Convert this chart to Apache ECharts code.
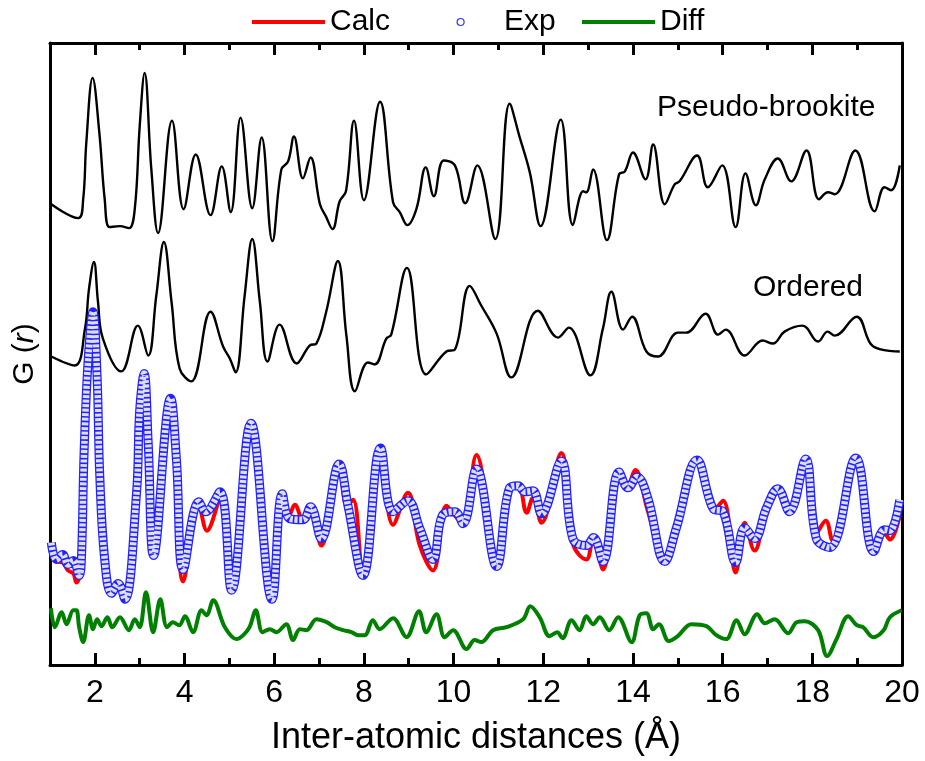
<!DOCTYPE html>
<html><head><meta charset="utf-8">
<script src="https://cdn.jsdelivr.net/npm/echarts@6/dist/echarts.min.js"></script>
<style>html,body{margin:0;padding:0;background:#fff}#chart{width:925px;height:761px}</style>
</head><body><div id="chart"></div>
<script>
// r (Å) vs G(r) in arbitrary, offset units
const pseudoBrookite = [[1.03,463],[1.63,449],[1.74,468],[1.81,525],[1.95,590],[2.10,535],[2.22,468],[2.33,440],[2.56,441],[2.76,439],[2.89,458],[3.00,541],[3.11,595],[3.26,498],[3.41,434],[3.72,547],[3.98,458],[4.25,513],[4.58,452],[4.83,501],[5.03,455],[5.25,550],[5.51,459],[5.72,530],[5.96,426],[6.16,498],[6.31,506],[6.44,531],[6.64,489],[6.81,510],[7.02,463],[7.15,451],[7.30,438],[7.46,466],[7.60,476],[7.78,547],[8.00,467],[8.36,566],[8.65,465],[8.80,455],[8.97,442],[9.17,458],[9.38,500],[9.56,471],[9.78,507],[10.03,502],[10.26,464],[10.53,502],[10.93,428],[11.25,564],[11.47,531],[11.70,495],[11.94,441],[12.39,548],[12.66,442],[12.89,476],[12.96,475],[13.11,498],[13.42,427],[13.69,493],[13.82,496],[14.00,515],[14.28,488],[14.45,523],[14.71,463],[14.93,483],[15.04,486],[15.43,512],[15.67,480],[15.99,502],[16.29,440],[16.51,494],[16.74,462],[16.94,488],[17.23,509],[17.53,486],[17.87,517],[18.15,468],[18.35,475],[18.50,473],[18.96,517],[19.39,456],[19.61,480],[19.76,477],[19.95,502]];
const ordered = [[1.03,310],[1.55,301],[1.78,338],[1.87,378],[1.98,405],[2.07,365],[2.18,328],[2.59,295],[2.96,341],[3.19,311],[3.37,371],[3.54,425],[3.71,365],[3.89,298],[4.15,285],[4.58,355],[4.86,320],[5.01,308],[5.14,294],[5.34,371],[5.51,428],[5.68,365],[5.85,305],[6.12,342],[6.50,303],[6.79,321],[6.94,323],[7.16,355],[7.42,406],[7.61,331],[7.80,275],[8.09,304],[8.24,302],[8.50,328],[8.61,332],[8.96,399],[9.39,292],[9.84,315],[10.03,317],[10.36,381],[10.62,361],[10.96,333],[11.29,289],[11.88,356],[12.33,329],[12.57,339],[13.05,291],[13.33,338],[13.52,375],[13.78,337],[13.98,350],[14.30,315],[14.56,310],[15.00,334],[15.19,334],[15.62,353],[15.90,332],[16.07,337],[16.49,311],[16.89,326],[17.12,323],[17.38,335],[17.78,341],[18.13,325],[18.34,335],[18.50,331],[18.99,350],[19.36,320],[19.95,315]];
const calc = [[1.03,110],[1.14,104],[1.28,103],[1.40,95],[1.52,92],[1.59,83],[1.65,88],[1.70,106],[1.76,213],[1.85,306],[1.96,352],[2.05,290],[2.11,190],[2.22,106],[2.37,72],[2.52,82],[2.67,66],[2.93,173],[3.00,250],[3.12,268],[3.19,220],[3.31,110],[3.69,268],[3.82,206],[3.97,84],[4.32,160],[4.50,135],[4.79,166],[5.05,75],[5.48,242],[5.95,66],[6.18,170],[6.33,150],[6.46,161],[6.64,146],[6.81,159],[7.05,120],[7.45,202],[7.62,160],[7.76,166],[7.98,90],[8.37,218],[8.65,141],[8.98,173],[9.24,121],[9.54,95],[9.84,160],[10.03,150],[10.21,142],[10.51,211],[10.96,97],[11.25,180],[11.44,180],[11.63,153],[11.77,168],[11.96,143],[12.40,213],[12.66,122],[12.96,106],[13.12,128],[13.33,96],[13.69,190],[13.87,180],[14.05,196],[14.33,155],[14.71,104],[14.97,138],[15.43,206],[15.79,155],[16.01,165],[16.29,93],[16.49,143],[16.71,115],[16.98,158],[17.23,177],[17.49,154],[17.85,207],[18.09,132],[18.30,145],[18.45,125],[18.97,208],[19.37,114],[19.61,132],[19.73,126],[19.95,151]];
const exp = [[1.03,123],[1.14,106],[1.28,111],[1.40,101],[1.52,105],[1.65,90],[1.70,106],[1.76,213],[1.85,306],[1.96,355],[2.05,290],[2.11,190],[2.22,106],[2.37,72],[2.52,82],[2.67,66],[2.93,173],[3.00,256],[3.10,293],[3.19,223],[3.31,110],[3.69,268],[3.82,206],[3.97,96],[4.32,164],[4.47,154],[4.79,174],[5.05,75],[5.48,243],[5.95,66],[6.18,172],[6.35,147],[6.64,146],[6.81,159],[7.05,127],[7.45,202],[7.65,159],[7.98,90],[8.37,218],[8.65,154],[8.98,165],[9.24,138],[9.54,106],[9.76,151],[10.03,154],[10.21,142],[10.51,197],[10.96,99],[11.25,178],[11.44,180],[11.59,174],[11.77,175],[11.96,152],[12.40,205],[12.66,127],[12.96,120],[13.12,128],[13.33,104],[13.69,194],[13.89,178],[14.09,189],[14.33,168],[14.71,104],[14.97,138],[15.43,206],[15.79,157],[16.01,154],[16.29,103],[16.49,138],[16.71,127],[16.98,158],[17.23,177],[17.49,154],[17.85,207],[18.09,127],[18.39,118],[18.97,208],[19.37,114],[19.61,136],[19.73,135],[19.95,166]];
const diff = [[1.02,57],[1.11,38],[1.26,53],[1.37,41],[1.52,55],[1.59,55],[1.65,38],[1.74,23],[1.87,50],[1.96,36],[2.05,46],[2.15,39],[2.28,48],[2.39,38],[2.56,48],[2.76,35],[2.89,46],[3.00,38],[3.14,73],[3.30,33],[3.46,66],[3.61,38],[3.74,43],[3.88,40],[4.01,49],[4.19,33],[4.38,55],[4.49,50],[4.64,65],[4.90,38],[5.16,26],[5.31,30],[5.45,38],[5.59,55],[5.74,33],[5.90,36],[6.05,33],[6.27,41],[6.42,25],[6.57,36],[6.72,35],[6.94,46],[7.17,43],[7.35,38],[7.54,35],[7.72,33],[7.87,30],[8.02,30],[8.20,45],[8.35,36],[8.65,47],[8.95,28],[9.23,54],[9.39,33],[9.62,51],[9.80,28],[9.99,35],[10.29,16],[10.47,25],[10.62,23],[10.88,35],[11.18,38],[11.55,46],[11.71,59],[11.92,48],[12.14,29],[12.31,33],[12.43,27],[12.63,45],[12.81,35],[12.96,49],[13.11,41],[13.26,48],[13.47,35],[13.67,48],[13.97,23],[14.15,50],[14.30,52],[14.45,36],[14.58,41],[14.80,24],[15.00,29],[15.30,41],[15.64,39],[15.86,30],[16.08,26],[16.31,45],[16.49,31],[16.77,51],[16.94,42],[17.16,46],[17.46,32],[17.65,43],[17.83,44],[18.13,35],[18.33,9],[18.54,26],[18.80,49],[18.99,40],[19.13,38],[19.36,28],[19.59,35],[19.73,48],[19.99,55]];
const majorTicks = [2,4,6,8,10,12,14,16,18,20];
const minorTicks = [3,5,7,9,11,13,15,17,19];
const xRange = [1, 20];
const yRange = [0, 625];
const curveLabels = ['Pseudo-brookite', 'Ordered'];
const xTitle = 'Inter-atomic distances (Å)';

const FONT = '"Liberation Sans", Arial, sans-serif';
const chart = echarts.init(document.getElementById('chart'), null, {renderer: 'canvas'});
const axisLine = {show: true, lineStyle: {color: '#000', width: 3}};
function xAx(pos, ticks, len, withLabel, showLine) {
  const a = {
    type: 'value', min: xRange[0], max: xRange[1], position: pos,
    axisLine: showLine ? axisLine : {show: false},
    axisTick: {show: true, inside: true, length: len, customValues: ticks, lineStyle: {color: '#000', width: 3}},
    axisLabel: withLabel ? {show: true, customValues: ticks, fontSize: 32, color: '#000', margin: 12, fontFamily: FONT} : {show: false},
    splitLine: {show: false}
  };
  if (withLabel) {
    a.name = xTitle; a.nameLocation = 'middle'; a.nameGap = 55;
    a.nameTextStyle = {fontSize: 36, color: '#000', fontFamily: FONT};
  }
  return a;
}
const legendText = {fontSize: 30, color: '#000', fontFamily: FONT};
function legendBox(left, name, icon, w, h, itemStyle, extra) {
  return Object.assign({left: left, top: 7, padding: 0, itemWidth: w, itemHeight: h,
    selectedMode: false, textStyle: legendText,
    data: [{name: name, icon: icon, itemStyle: itemStyle}]}, extra || {});
}
chart.setOption({
  animation: false,
  backgroundColor: '#fff',
  grid: {left: 50, right: 23, top: 43, bottom: 93, containLabel: false},
  legend: [
    legendBox(252, 'Calc', 'rect', 73, 4, {color: '#ff0000'}),
    legendBox(456.5, 'Exp', 'circle', 7, 7, {color: '#fff', borderColor: '#3333ff', borderWidth: 1.2},
      {formatter: '{s|}{name}', textStyle: Object.assign({}, legendText, {rich: {s: {width: 35}}})}),
    legendBox(582, 'Diff', 'rect', 73, 4, {color: '#008000'})
  ],
  xAxis: [
    xAx('bottom', majorTicks, 12, true, true),
    xAx('bottom', minorTicks, 7, false, false),
    xAx('top', majorTicks, 12, false, true),
    xAx('top', minorTicks, 7, false, false)
  ],
  yAxis: [
    {type: 'value', min: yRange[0], max: yRange[1], position: 'left', axisLine: axisLine,
     axisTick: {show: false}, axisLabel: {show: false}, splitLine: {show: false},
     name: 'G ({i|r})', nameLocation: 'middle', nameGap: 10, nameRotate: 90,
     nameTextStyle: {fontSize: 30, color: '#000', fontFamily: FONT,
       rich: {i: {fontStyle: 'italic', fontSize: 30, color: '#000', fontFamily: FONT}}}},
    {type: 'value', min: yRange[0], max: yRange[1], position: 'right', axisLine: axisLine,
     axisTick: {show: false}, axisLabel: {show: false}, splitLine: {show: false}}
  ],
  graphic: [
    {type: 'text', left: 657, top: 93, style: {text: curveLabels[0], font: '30px ' + FONT, fill: '#000'}},
    {type: 'text', left: 753, top: 273, style: {text: curveLabels[1], font: '30px ' + FONT, fill: '#000'}}
  ],
  series: [
    {name: 'Diff', type: 'line', data: diff, smooth: 0.35, showSymbol: false, z: 2,
     lineStyle: {color: '#008000', width: 4}, itemStyle: {color: '#008000'}},
    {name: 'Pseudo-brookite', type: 'line', data: pseudoBrookite, smooth: 0.4, showSymbol: false, z: 2,
     lineStyle: {color: '#000', width: 2.4}},
    {name: 'Ordered', type: 'line', data: ordered, smooth: 0.4, showSymbol: false, z: 2,
     lineStyle: {color: '#000', width: 2.4}},
    {name: 'Calc', type: 'line', data: calc, smooth: 0.4, showSymbol: false, z: 3,
     lineStyle: {color: '#ff0000', width: 4}, itemStyle: {color: '#ff0000'}},
    {name: 'Exp', type: 'line', data: exp, smooth: 0.4, showSymbol: false, z: 4,
     lineStyle: {color: '#2222ff', width: 9}, itemStyle: {color: '#2222ff'}},
    {name: 'Exp', type: 'line', data: exp, smooth: 0.4, showSymbol: false, z: 5,
     lineStyle: {color: 'rgba(255,255,255,0.85)', width: 6.5, type: [3, 1.6], cap: 'butt'}, itemStyle: {color: '#2222ff'}}
  ]
});
</script>
</body></html>
